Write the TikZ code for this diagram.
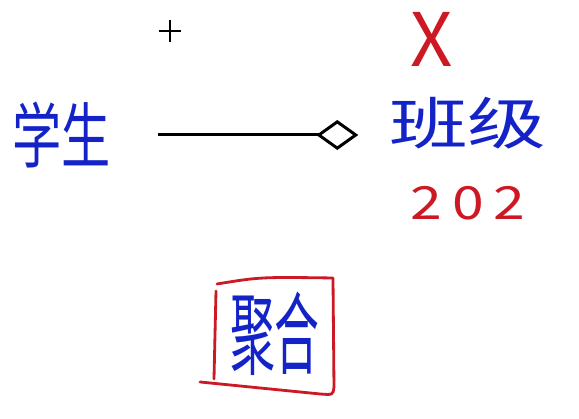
\documentclass[tikz,border=0pt]{standalone}
\usepackage{fontspec}
\newfontfamily\cjk{Noto Sans CJK SC}
\usetikzlibrary{arrows.meta}
\definecolor{bluepen}{RGB}{20,35,200}
\definecolor{redpen}{RGB}{205,25,35}

\begin{document}
\begin{tikzpicture}[
    bluetext/.style={text=bluepen, inner sep=0pt},
    redtext/.style={text=redpen, inner sep=0pt},
    aggr/.style={line width=0.85pt, -{Diamond[open, length=0.42cm, width=0.30cm]}},
    redline/.style={draw=redpen, line width=0.8pt, line cap=round, line join=round}
  ]
  \useasboundingbox (0,0) rectangle (5.79,4.19);
  % cursor mark
  \draw[line width=0.3pt] (1.59,3.88) -- (1.81,3.88);
  \draw[line width=0.3pt] (1.70,3.77) -- (1.70,3.99);

  % the two classes
  \node[bluetext, yscale=1.45] (student) at (0.62,2.84) {\cjk\fontsize{14}{14}\selectfont 学生};
  \node[bluetext, xscale=1.4] (class) at (4.68,2.96) {\cjk\fontsize{16}{16}\selectfont 班级};
  \draw[aggr, shorten <=0.46cm, shorten >=0.30cm] (student.east) -- (student.east -| class.west);

  % notes in red
  \node[redtext] (cross) at (4.32,3.80) {\cjk\fontsize{21}{21}\selectfont X};
  \node[redtext, xscale=1.25] (count) at (4.68,2.16) {\cjk\fontsize{13}{13}\selectfont 2\,0\,2};

  % relation name in a box
  \node[bluetext, xscale=0.85, yscale=1.7] (name) at (2.75,0.85) {\cjk\fontsize{15}{15}\selectfont 聚合};
  \draw[redline] (2.16,1.28) -- (2.14,0.40);
  \draw[redline] (2.17,1.35) .. controls (2.6,1.42) .. (3.33,1.41) -- (3.34,0.32)
    .. controls (3.33,0.24) .. (3.20,0.25) .. controls (2.6,0.30) .. (2.00,0.37);
\end{tikzpicture}
\end{document}
